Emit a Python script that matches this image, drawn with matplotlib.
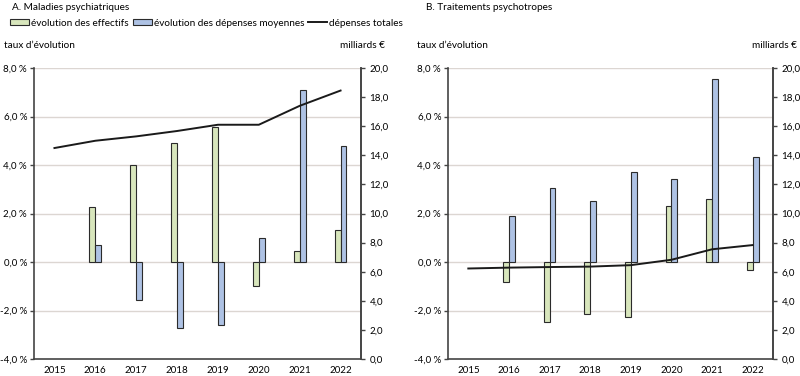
import matplotlib
matplotlib.use("Agg")
import matplotlib.pyplot as plt
from matplotlib.patches import Patch
from matplotlib.lines import Line2D
from matplotlib.ticker import FuncFormatter
import numpy as np

plt.rcParams['font.family'] = ['Lato', 'DejaVu Sans']

years = ["2015", "2016", "2017", "2018", "2019", "2020", "2021", "2022"]

# Panel A: Maladies psychiatriques
a_effectifs = [np.nan, 2.26, 3.99, 4.92, 5.57, -0.97, 0.46, 1.34]
a_depmoy = [np.nan, 0.72, -1.56, -2.74, -2.59, 0.97, 7.11, 4.77]
a_total = [14.5, 15.0, 15.3, 15.67, 16.1, 16.1, 17.4, 18.45]

# Panel B: Traitements psychotropes
b_effectifs = [np.nan, -0.82, -2.46, -2.14, -2.26, 2.30, 2.58, -0.32]
b_depmoy = [np.nan, 1.88, 3.07, 2.50, 3.73, 3.42, 7.56, 4.33]
b_total = [6.22, 6.28, 6.32, 6.35, 6.45, 6.82, 7.54, 7.83]

GREEN = "#d8e6bc"
BLUE = "#aec2e4"
EDGE = "#2b2b2b"
GRID = "#dcd6d2"
SPINE = "#444444"

W, H = 800, 376
fig = plt.figure(figsize=(W / 100, H / 100), dpi=100)
TFS = 7


def pct_fmt(v, pos):
    return ("%.1f" % v).replace(".", ",") + " %"


def num_fmt(v, pos):
    return ("%.1f" % v).replace(".", ",")


def panel(x0, x1, eff, dep, tot):
    y_top, y_bot = 68, 359
    ax = fig.add_axes([x0 / W, 1 - y_bot / H, (x1 - x0) / W, (y_bot - y_top) / H])
    x = np.arange(len(years))
    bw = 0.145
    ax.bar(x - bw / 2, eff, width=bw, color=GREEN, edgecolor=EDGE, linewidth=0.8, zorder=3)
    ax.bar(x + bw / 2, dep, width=bw, color=BLUE, edgecolor=EDGE, linewidth=0.8, zorder=3)
    ax.set_xlim(-0.5, len(years) - 0.5)
    ax.set_ylim(-4, 8)
    ax.set_yticks([-4, -2, 0, 2, 4, 6, 8])
    ax.yaxis.set_major_formatter(FuncFormatter(pct_fmt))
    ax.set_xticks(x)
    ax.set_xticklabels(years)
    for yv in [-2, 0, 2, 4, 6, 8]:
        ax.axhline(yv, color=GRID, linewidth=1.0, zorder=1)
    ax.spines["top"].set_visible(False)
    for s in ["left", "right", "bottom"]:
        ax.spines[s].set_color(SPINE)
        ax.spines[s].set_linewidth(1.2)
    ax.tick_params(axis="y", length=3, width=1, color=SPINE, labelsize=TFS, pad=2)
    ax.tick_params(axis="x", length=0, labelsize=TFS, pad=5)

    ax2 = ax.twinx()
    ax2.set_ylim(0, 20)
    ax2.set_yticks(np.arange(0, 21, 2))
    ax2.yaxis.set_major_formatter(FuncFormatter(num_fmt))
    ax2.plot(x, tot, color="#1a1a1a", linewidth=1.4, zorder=4)
    ax2.spines["top"].set_visible(False)
    ax2.spines["left"].set_visible(False)
    ax2.spines["bottom"].set_visible(False)
    ax2.spines["right"].set_color(SPINE)
    ax2.spines["right"].set_linewidth(1.2)
    ax2.tick_params(axis="y", length=3, width=1, color=SPINE, labelsize=TFS, pad=3)
    return ax, ax2


panel(34, 361, a_effectifs, a_depmoy, a_total)
panel(448, 773, b_effectifs, b_depmoy, b_total)

fs = 7.2
fig.text(12 / W, 1 - 7 / H, "A. Maladies psychiatriques", fontsize=fs, va="center", ha="left")
fig.text(426 / W, 1 - 7 / H, "B. Traitements psychotropes", fontsize=fs, va="center", ha="left")
fig.text(4 / W, 1 - 46 / H, "taux d\u2019\u00e9volution", fontsize=fs, va="center", ha="left")
fig.text(385 / W, 1 - 46 / H, "milliards \u20ac", fontsize=fs, va="center", ha="right")
fig.text(417 / W, 1 - 46 / H, "taux d\u2019\u00e9volution", fontsize=fs, va="center", ha="left")
fig.text(797 / W, 1 - 46 / H, "milliards \u20ac", fontsize=fs, va="center", ha="right")

handles = [
    Patch(facecolor=GREEN, edgecolor=EDGE, linewidth=0.8),
    Patch(facecolor=BLUE, edgecolor=EDGE, linewidth=0.8),
    Line2D([0], [0], color="#1a1a1a", linewidth=1.4),
]
labels = ["\u00e9volution des effectifs", "\u00e9volution des d\u00e9penses moyennes", "d\u00e9penses totales"]
fig.legend(handles, labels, loc="center left", bbox_to_anchor=(10 / W, 1 - 23 / H), ncol=3,
           frameon=False, fontsize=fs, handlelength=1.9, handleheight=0.5,
           handletextpad=0.2, columnspacing=0.4, borderaxespad=0, borderpad=0)

fig.savefig("out.png", dpi=100)
